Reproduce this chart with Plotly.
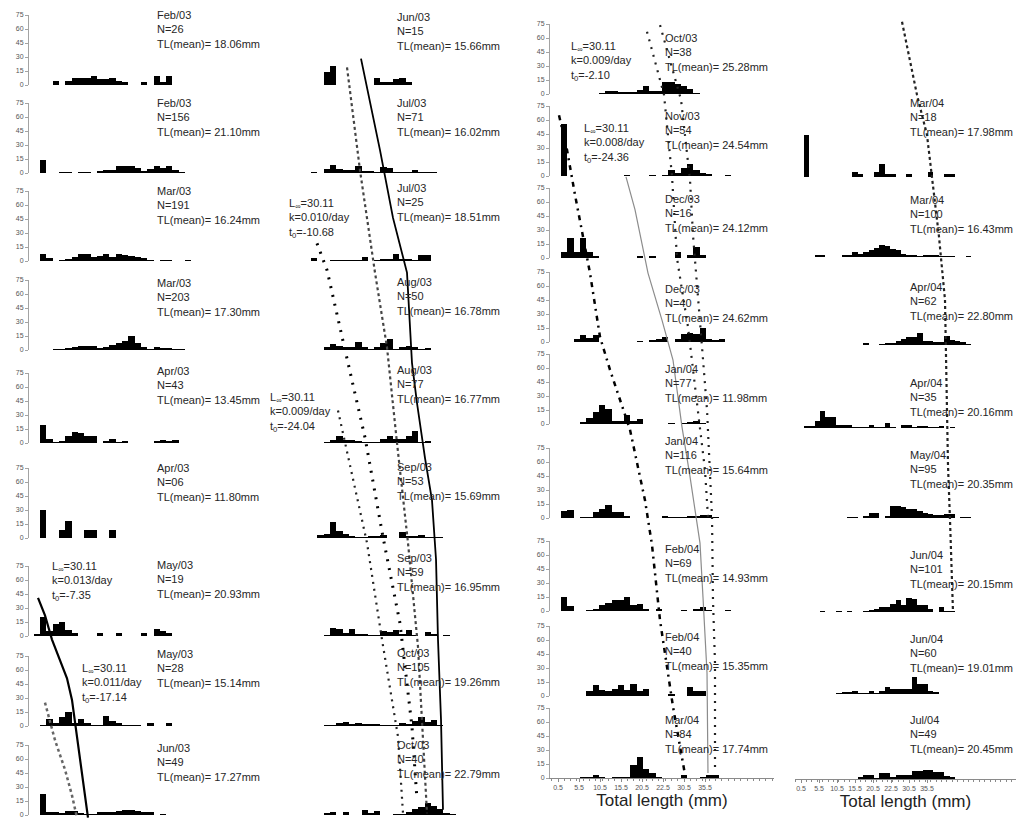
import numpy as np
import plotly.graph_objects as go

W, H = 1016, 820
FONT = "Arial, 'Liberation Sans', sans-serif"

BIN_WIDTH = 1.5   # width of a size class (mm)
FIRST_BIN = 0.5   # centre of the first size class (mm)

# ---------------- column 1 ----------------
c1_month = ["Feb/03", "Feb/03", "Mar/03", "Mar/03", "Apr/03", "Apr/03", "May/03", "May/03", "Jun/03"]
c1_n = ["26", "156", "191", "203", "43", "06", "19", "28", "49"]
c1_mean = ["18.06", "21.10", "16.24", "17.30", "13.45", "11.80", "20.93", "15.14", "17.27"]
feb03_n26 = [0, 0, 0, 4, 0, 4, 7, 7, 7, 10, 6, 6, 7, 4, 3, 0, 0, 3, 0, 10, 3, 10]
feb03_n156 = [0, 14, 0, 0, 1, 1, 0, 1, 1, 0, 2, 3, 3, 7, 7, 8, 5, 2, 4, 7, 5, 7, 3, 1]
mar03_n191 = [0, 7, 3, 0, 1, 2, 4, 8, 8, 4, 5, 8, 4, 7, 6, 5, 4, 3, 1, 0, 1, 1, 0, 0, 1]
mar03_n203 = [0, 0, 0, 1, 1, 2, 3, 4, 4, 4, 2, 3, 5, 8, 10, 15, 8, 3, 1, 3, 2, 2, 1, 1]
apr03_n43 = [0, 19, 4, 1, 2, 7, 12, 11, 7, 7, 0, 2, 4, 1, 2, 0, 0, 0, 0, 2, 3, 2, 3]
apr03_n06 = [0, 30, 0, 0, 9, 18, 0, 0, 9, 9, 0, 0, 9]
may03_n19 = [2, 20, 5, 13, 15, 6, 3, 0, 0, 0, 3, 0, 0, 3, 0, 0, 0, 3, 0, 7, 5, 3]
may03_n28 = [0, 1, 7, 3, 10, 15, 3, 7, 3, 1, 1, 11, 5, 3, 1, 1, 1, 0, 3, 0, 0, 3]
jun03_n49 = [0, 22, 3, 3, 2, 4, 4, 2, 1, 1, 3, 3, 3, 4, 5, 5, 4, 3, 3, 0, 1]
c1_counts = [feb03_n26, feb03_n156, mar03_n191, mar03_n203, apr03_n43, apr03_n06,
             may03_n19, may03_n28, jun03_n49]

# ---------------- column 2 ----------------
c2_month = ["Jun/03", "Jul/03", "Jul/03", "Aug/03", "Aug/03", "Sep/03", "Sep/03", "Oct/03", "Oct/03"]
c2_n = ["15", "71", "25", "50", "77", "53", "59", "105", "40"]
c2_mean = ["15.66", "16.02", "18.51", "16.78", "16.77", "15.69", "16.95", "19.26", "22.79"]
jun03_n15 = [0, 0, 0, 14, 20, 0, 0, 0, 0, 0, 0, 7, 3, 3, 6, 8, 3]
jul03_n71 = [0, 1, 0, 4, 9, 4, 3, 3, 7, 2, 2, 1, 6, 5, 1, 1, 1, 3, 1, 1, 1]
jul03_n25 = [0, 3, 0, 0, 1, 1, 1, 1, 1, 4, 0, 1, 2, 2, 8, 2, 2, 1, 6, 6]
aug03_n50 = [0, 0, 0, 3, 6, 4, 3, 3, 9, 3, 1, 3, 8, 12, 1, 3, 4, 3, 1, 2]
aug03_n77 = [0, 0, 0, 1, 3, 7, 3, 3, 2, 1, 1, 1, 4, 7, 4, 4, 8, 13, 1, 2]
sep03_n53 = [0, 0, 3, 4, 17, 8, 4, 2, 1, 1, 2, 2, 3, 0, 0, 6, 2, 2, 3, 1, 1, 1]
sep03_n59 = [0, 0, 0, 1, 9, 8, 3, 7, 2, 2, 1, 1, 5, 4, 6, 2, 6, 1, 0, 4, 2, 0, 1]
oct03_n105 = [0, 0, 0, 1, 1, 3, 4, 2, 3, 2, 2, 2, 1, 1, 1, 3, 2, 5, 10, 4, 6, 1]
oct03_n40 = [0, 0, 0, 2, 3, 0, 3, 0, 0, 5, 2, 4, 0, 0, 1, 1, 3, 6, 9, 13, 10, 6, 2, 1]
c2_counts = [jun03_n15, jul03_n71, jul03_n25, aug03_n50, aug03_n77, sep03_n53,
             sep03_n59, oct03_n105, oct03_n40]

# ---------------- column 3 ----------------
c3_month = ["Oct/03", "Nov/03", "Dec/03", "Dec/03", "Jan/04", "Jan/04", "Feb/04", "Feb/04", "Mar/04"]
c3_n = ["38", "54", "16", "40", "77", "116", "69", "40", "84"]
c3_mean = ["25.28", "24.54", "24.12", "24.62", "11.98", "15.64", "14.93", "15.35", "17.74"]
oct03_n38 = [0, 0, 0, 0, 0, 0, 0, 1, 3, 3, 2, 2, 2, 4, 9, 3, 3, 13, 13, 11, 9, 5, 1]
nov03_n54 = [0, 56, 0, 0, 0, 0, 0, 0, 0, 0, 0, 1, 0, 0, 0, 1, 0, 1, 6, 3, 9, 13, 6, 3, 2, 0, 0, 1]
dec03_n16 = [0, 6, 21, 6, 21, 6, 2, 0, 0, 0, 0, 0, 0, 2, 0, 2, 0, 0, 0, 6, 0, 3, 12, 3]
dec03_n40 = [0, 0, 0, 3, 8, 4, 8, 0, 0, 0, 0, 0, 0, 1, 0, 2, 3, 5, 0, 3, 9, 10, 9, 15, 3, 2, 3]
jan04_n77 = [0, 0, 0, 0, 2, 6, 13, 20, 16, 3, 3, 10, 3, 5, 0, 0, 0, 0, 1, 0, 1, 2, 3, 1]
jan04_n116 = [0, 8, 9, 0, 1, 1, 6, 10, 14, 6, 6, 2, 0, 0, 0, 0, 0, 2, 1, 1, 1, 2, 2, 3, 3, 1]
feb04_n69 = [0, 15, 5, 0, 0, 1, 2, 6, 9, 12, 12, 15, 6, 8, 2, 0, 2, 0, 0, 0, 1, 0, 2, 4, 1, 0, 0, 1]
feb04_n40 = [0, 0, 0, 0, 0, 5, 12, 6, 5, 7, 12, 6, 13, 5, 7, 0, 0, 0, 2, 0, 0, 10, 5, 5]
mar04_n84 = [0, 0, 0, 0, 1, 1, 3, 1, 0, 1, 1, 1, 14, 22, 10, 5, 1, 0, 0, 0, 3, 0, 0, 1, 3, 3]
c3_counts = [oct03_n38, nov03_n54, dec03_n16, dec03_n40, jan04_n77, jan04_n116,
             feb04_n69, feb04_n40, mar04_n84]

# ---------------- column 4 ----------------
c4_month = ["Mar/04", "Mar/04", "Apr/04", "Apr/04", "May/04", "Jun/04", "Jun/04", "Jul/04"]
c4_n = ["18", "100", "62", "35", "95", "101", "60", "49"]
c4_mean = ["17.98", "16.43", "22.80", "20.16", "20.35", "20.15", "19.01", "20.45"]
mar04_n18 = [0, 45, 0, 0, 0, 0, 0, 0, 0, 0, 5, 3, 0, 0, 5, 14, 3, 3, 0, 0, 3, 0, 0, 0, 5, 0, 0, 3, 3]
mar04_n100 = [0, 0, 0, 2, 2, 0, 0, 0, 2, 2, 5, 3, 5, 8, 10, 13, 12, 9, 7, 3, 2, 2, 1, 2, 2, 2, 1, 1, 1, 0, 0, 1]
apr04_n62 = [0, 0, 0, 0, 0, 0, 0, 0, 0, 0, 0, 0, 2, 0, 0, 1, 2, 2, 4, 6, 9, 9, 13, 4, 4, 3, 3, 10, 5, 4, 3, 1]
apr04_n35 = [0, 2, 2, 7, 18, 12, 12, 3, 3, 3, 1, 1, 1, 3, 1, 1, 5, 1, 0, 3, 3, 1, 2, 2, 1, 1, 2, 0, 1]
may04_n95 = [0, 0, 0, 0, 0, 0, 0, 0, 0, 1, 1, 0, 2, 5, 5, 0, 2, 13, 13, 12, 10, 10, 7, 5, 4, 3, 3, 4, 4, 0, 1, 1]
jun04_n101 = [0, 0, 0, 0, 1, 0, 0, 1, 0, 1, 0, 0, 1, 2, 3, 5, 5, 9, 13, 8, 15, 14, 7, 7, 3, 0, 5, 1, 1]
jun04_n60 = [0, 0, 0, 0, 0, 0, 0, 1, 2, 2, 3, 1, 1, 3, 1, 3, 8, 5, 5, 5, 5, 18, 11, 11, 3, 2]
jul04_n49 = [0, 0, 0, 0, 0, 0, 0, 0, 0, 0, 0, 2, 4, 4, 1, 6, 6, 2, 4, 4, 4, 9, 9, 10, 10, 8, 7, 3, 2]
c4_counts = [mar04_n18, mar04_n100, apr04_n62, apr04_n35, may04_n95, jun04_n101, jun04_n60, jul04_n49]

# x tick labels (as printed on the original)
x_tickvals = [0.5, 5.5, 10.5, 15.5, 20.5, 25.5, 30.5, 35.5]
x_ticktext = ["0.5", "5.5", "10.5", "15.5", "20.5", "22.5", "30.5", "35.5"]
y_tickvals = [0, 15, 30, 45, 60, 75]

# ---------------- growth curves (length mm, sample-row position) ----------------
g1_solid_len = [0.74, 2.4, 4.07, 5.98, 7.64, 8.83, 9.79, 10.74, 11.69, 12.64]
g1_solid_row = [6.61, 6.79, 7.04, 7.27, 7.47, 7.71, 8.04, 8.38, 8.72, 9.03]
g1_dot_len = [2.4, 4.79, 7.17, 8.83, 10.02]
g1_dot_row = [7.74, 8.16, 8.49, 8.78, 9.03]
g2_solid_len = [13.12, 17.64, 20.74, 24.07, 25.26, 26.45, 28.36, 30.02, 30.98, 31.45, 32.17, 32.64]
g2_solid_row = [0.70, 1.74, 2.51, 3.13, 4.14, 4.57, 5.16, 5.60, 6.22, 7.04, 7.93, 8.94]
g2_fine_len = [9.79, 12.88, 16.45, 19.31, 21.69, 24.31, 26.69, 27.88, 28.83]
g2_fine_row = [0.80, 1.97, 3.13, 3.97, 5.0, 6.05, 7.12, 8.12, 8.98]
g2_dotA_len = [2.64, 5.02, 8.6, 14.07, 18.36, 22.4, 25.26, 26.45]
g2_dotA_row = [2.80, 3.10, 3.85, 4.94, 5.99, 6.87, 8.01, 8.83]
g2_dotB_len = [7.64, 14.55, 18.12, 21.93, 23.12]
g2_dotB_row = [4.65, 6.05, 7.04, 8.12, 8.98]
g3_dashdot_len = [0.74, 2.64, 4.55, 6.93, 8.12, 10.5, 12.88, 17.64, 21.21, 22.88, 24.79, 27.88, 30.74]
g3_dashdot_row = [1.26, 1.68, 2.23, 2.84, 3.18, 3.94, 4.34, 5.06, 5.81, 6.29, 7.11, 8.13, 8.96]
g3_dot1_len = [21.69, 25.74, 27.64, 28.83, 30.02, 31.45, 33.83, 35.5, 36.21]
g3_dot1_row = [0.24, 1.01, 2.0, 3.0, 3.38, 3.82, 4.85, 5.49, 5.99]
g3_dot2_len = [24.79, 29.79, 31.93, 32.64, 34.79, 35.98, 37.17, 37.4, 37.88, 37.88]
g3_dot2_row = [0.16, 1.07, 2.05, 2.72, 4.06, 4.83, 5.99, 6.88, 7.61, 8.94]
g3_grey_len = [16.69, 18.83, 21.93, 25.26, 27.88, 30.02, 31.93, 34.31, 35.02, 35.98, 36.21]
g3_grey_row = [2.01, 2.41, 3.18, 3.74, 4.22, 5.03, 5.56, 6.27, 6.85, 7.73, 8.94]
g4_dot_len = [28.56, 32.72, 35.5, 37.44, 38.83, 40.5, 41.06, 41.33, 41.89, 42.72]
g4_dot_row = [0.12, 1.01, 1.5, 2.21, 2.74, 3.5, 4.71, 5.44, 6.02, 7.01]

# growth parameter labels
vb_k = ["0.013", "0.011", "0.010", "0.009", "0.009", "0.008"]
vb_t0 = ["-7.35", "-17.14", "-10.68", "-24.04", "-2.10", "-24.36"]
vb_linf = "30.11"

# ---------------- layout geometry (pixels) ----------------
PANEL_H = 70
BASE12 = [85, 173, 261, 350, 443, 538, 636, 726, 815]
BASE34 = [94, 176, 258, 342, 424, 518, 611, 696, 778]
ROWPX12 = [-3] + BASE12 + [905]
ROWPX34 = [12] + BASE34 + [862]

COLUMNS = [
    dict(month=c1_month, n=c1_n, mean=c1_mean, counts=c1_counts, x0=29, x1=253, pxf=37, ppm=4.2,
         base=BASE12, tx=155, ty=[15, 103, 191, 283, 371, 468, 565, 654, 748], yaxis=True, bottom=False,
         rowpx=ROWPX12),
    dict(month=c2_month, n=c2_n, mean=c2_mean, counts=c2_counts, x0=300, x1=524, pxf=308, ppm=4.2,
         base=BASE12, tx=395, ty=[17, 103, 188, 282, 370, 467, 558, 653, 745], yaxis=False, bottom=False,
         rowpx=ROWPX12),
    dict(month=c3_month, n=c3_n, mean=c3_mean, counts=c3_counts, x0=550, x1=774, pxf=558, ppm=4.2,
         base=BASE34, tx=663, ty=[38, 116, 199, 289, 369, 441, 549, 637, 720], yaxis=True, bottom=True,
         rowpx=ROWPX34),
    dict(month=c4_month, n=c4_n, mean=c4_mean, counts=c4_counts, x0=795, x1=1016, pxf=801, ppm=3.6,
         base=[177, 257, 345, 428, 518, 612, 694, 779], tx=908, ty=[103, 200, 287, 383, 455, 555, 639, 720],
         yaxis=False, bottom=True, rowpx=ROWPX34),
]

layout = {}
traces = []
annotations = []
ax_count = [0]


def new_axes(xdom, xrng, ydom, yrng, xopts, yopts):
    ax_count[0] += 1
    k = ax_count[0]
    s = "" if k == 1 else str(k)
    layout["xaxis" + s] = dict(domain=xdom, range=xrng, anchor="y" + s, fixedrange=True, **xopts)
    layout["yaxis" + s] = dict(domain=ydom, range=yrng, anchor="x" + s, fixedrange=True, **yopts)
    return "x" + s, "y" + s


hidden = dict(visible=False)
y_visible = dict(showline=True, linecolor="#a3a3a3", linewidth=1, ticks="outside", ticklen=3,
                 tickcolor="#a3a3a3", tickvals=y_tickvals, tickfont=dict(size=7, color="#555", family=FONT),
                 showgrid=False, zeroline=False, automargin=False)
x_bottom = dict(showline=True, linecolor="#8a8a8a", linewidth=1, ticks="outside", ticklen=3,
                tickcolor="#8a8a8a", tickvals=x_tickvals, ticktext=x_ticktext,
                tickfont=dict(size=7, color="#555", family=FONT), showgrid=False, zeroline=False,
                automargin=False,
                minor=dict(ticks="outside", ticklen=2, tick0=FIRST_BIN, dtick=BIN_WIDTH, tickcolor="#8a8a8a"),
                title=dict(text="Total length (mm)", font=dict(size=17, color="#222", family=FONT), standoff=3))

col_ranges = []
for col in COLUMNS:
    xr = [FIRST_BIN + (col["x0"] - col["pxf"]) / col["ppm"], FIRST_BIN + (col["x1"] - col["pxf"]) / col["ppm"]]
    col_ranges.append(xr)
    nrow = len(col["counts"])
    for i in range(nrow):
        b = col["base"][i]
        ydom = [(H - b) / H, (H - b + PANEL_H) / H]
        xdom = [col["x0"] / W, min(col["x1"] / W, 1.0)]
        xo = x_bottom if (col["bottom"] and i == nrow - 1) else hidden
        yo = y_visible if col["yaxis"] else hidden
        xa, ya = new_axes(xdom, xr, ydom, [0, 75], xo, yo)
        cnt = np.array(col["counts"][i], dtype=float)
        centres = FIRST_BIN + BIN_WIDTH * np.arange(len(cnt))
        keep = cnt > 0
        traces.append(go.Bar(x=centres[keep], y=cnt[keep], width=BIN_WIDTH,
                             marker=dict(color="black", line=dict(width=0)),
                             xaxis=xa, yaxis=ya, showlegend=False, hoverinfo="skip"))
        txt = f"{col['month'][i]}<br>N={col['n'][i]}<br>TL(mean)= {col['mean'][i]}mm"
        annotations.append(dict(text=txt, x=col["tx"] / W, y=1 - (col["ty"][i] - 8) / H, xref="paper",
                                yref="paper", xanchor="left", yanchor="top", align="left", showarrow=False,
                                font=dict(size=11, color="#262626", family=FONT)))

# overlay axes, one per column, for the growth curves
overlay = []
for ci, col in enumerate(COLUMNS):
    xa, ya = new_axes([col["x0"] / W, min(col["x1"] / W, 1.0)], col_ranges[ci], [0, 1], [H, 0], hidden, hidden)
    overlay.append((xa, ya))

curves = [
    (0, g1_solid_len, g1_solid_row, dict(color="black", width=2.2)),
    (0, g1_dot_len, g1_dot_row, dict(color="#666", width=2.5, dash="dot")),
    (1, g2_solid_len, g2_solid_row, dict(color="black", width=1.8)),
    (1, g2_fine_len, g2_fine_row, dict(color="#444", width=2.2, dash="dot")),
    (1, g2_dotA_len, g2_dotA_row, dict(color="black", width=3, dash="2px,7px")),
    (1, g2_dotB_len, g2_dotB_row, dict(color="#222", width=2.2, dash="2px,5px")),
    (2, g3_dashdot_len, g3_dashdot_row, dict(color="black", width=2.5, dash="5px,5px,2px,5px")),
    (2, g3_dot1_len, g3_dot1_row, dict(color="#222", width=2.2, dash="2px,6px")),
    (2, g3_dot2_len, g3_dot2_row, dict(color="#222", width=2.2, dash="2px,6px")),
    (2, g3_grey_len, g3_grey_row, dict(color="#8c8c8c", width=1.2)),
    (3, g4_dot_len, g4_dot_row, dict(color="#222", width=2.2, dash="dot")),
]
for ci, lens, rows, style in curves:
    rowpx = COLUMNS[ci]["rowpx"]
    ypos = np.interp(rows, np.arange(len(rowpx)), rowpx)
    xa, ya = overlay[ci]
    traces.append(go.Scatter(x=lens, y=ypos, mode="lines", line=style, xaxis=xa, yaxis=ya,
                             showlegend=False, hoverinfo="skip"))

# von Bertalanffy parameter labels
vb_pos = [(50, 566), (80, 668), (287, 203), (268, 397), (569, 46), (582, 128)]
for (px, py), k, t0 in zip(vb_pos, vb_k, vb_t0):
    txt = f"L<sub>∞</sub>={vb_linf}<br>k={k}/day<br>t<sub>0</sub>={t0}"
    annotations.append(dict(text=txt, x=px / W, y=1 - (py - 8) / H, xref="paper", yref="paper",
                            xanchor="left", yanchor="top", align="left", showarrow=False,
                            font=dict(size=11, color="#262626", family=FONT)))

fig = go.Figure(data=traces)
fig.update_layout(**layout)
fig.update_layout(width=W, height=H, autosize=False, margin=dict(l=0, r=0, t=0, b=0),
                  paper_bgcolor="white", plot_bgcolor="rgba(0,0,0,0)", bargap=0,
                  font=dict(family=FONT), annotations=annotations, showlegend=False)
fig.write_html("out.html", config={"displayModeBar": False},
               post_script="document.body.style.margin='0px';")
